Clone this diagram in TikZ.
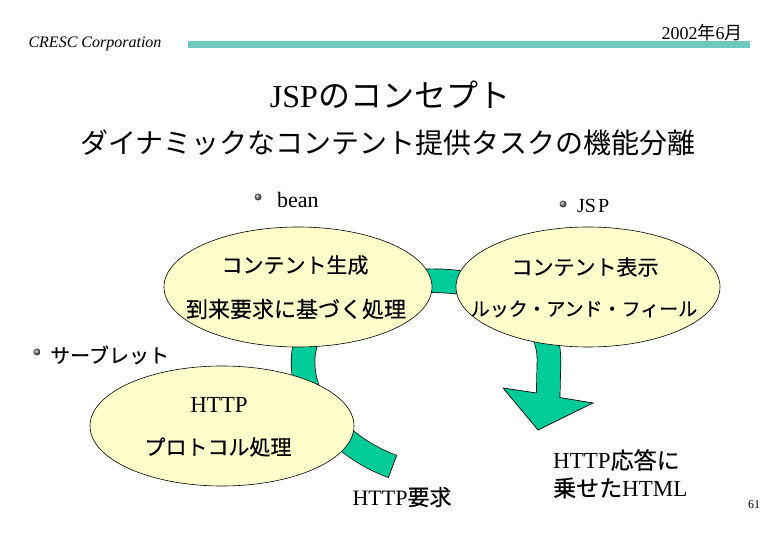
\documentclass[tikz,border=0pt]{standalone}
\usepackage{fontspec}
\setmainfont{Liberation Serif}
\newfontfamily\jp{Noto Sans CJK JP}
\newfontfamily\jpb[FakeBold=0.4]{Noto Sans CJK JP}
\usetikzlibrary{shapes.geometric,calc}
\definecolor{bandgreen}{RGB}{0,204,153}
\definecolor{ellfill}{RGB}{255,255,204}
\definecolor{barteal}{RGB}{110,200,190}
\newcommand\setfs[1]{\fontsize{#1}{#1}\selectfont}
\begin{document}
\begin{tikzpicture}[x=1pt,y=-1pt,
  txt/.style={inner sep=0pt, anchor=center},
  ell/.style={ellipse, draw=black, line width=0.6pt, fill=ellfill, inner sep=0pt},
  bul/.style={circle, inner sep=0pt, minimum size=7pt, ball color=gray!90!black},
  bandline/.style={draw=black, line width=0.7pt, double=bandgreen, double distance=23pt},
  bandedge/.style={draw=black, line width=0.7pt, fill=bandgreen, line join=miter}]
\useasboundingbox (0,0) rectangle (780,540);
\fill[white] (0,0) rectangle (780,540);
% header
\fill[barteal] (188,41) rectangle (750,48);
\node[txt, font=\itshape\setfs{16}] (corp) at (95,44) {CRESC Corporation};
\node[txt, font=\setfs{18}] (date) at (702,33) {2002{\jp 年}6{\jp 月}};
% titles
\node[txt, font=\setfs{32}] (title) at (390,95) {JSP{\jp のコンセプト}};
\node[txt, font=\jp\setfs{28}] (sub) at (388,143) {ダイナミックなコンテント提供タスクの機能分離};
% bullets
\node[bul] (b1) at (258,197) {};
\node[txt, anchor=west, font=\setfs{22}] (bean) at (277,200) {bean};
\node[bul] (b2) at (563,204) {};
\node[txt, anchor=west, font=\setfs{20}] (jsp) at (577,206) {JS\kern2pt P};
\node[bul] (b3) at (37,352) {};
\node[txt, anchor=west, font=\jpb\setfs{20}] (servlet) at (50,355) {サーブレット};
% band
\coordinate (s) at (392.5,466.5);
\coordinate (c1) at (348,450);
\coordinate (c2) at (303,410);
\coordinate (p1) at (303,362);
\coordinate (c3) at (303,300);
\coordinate (c4) at (385,278);
\coordinate (p2) at (443,281);
\coordinate (c5) at (505,284);
\coordinate (c6) at (549,315);
\coordinate (p3) at (549,360);
\coordinate (p4) at (548,402);
\draw[bandline] (s) .. controls (c1) and (c2) .. (p1)
  .. controls (c3) and (c4) .. (p2)
  .. controls (c5) and (c6) .. (p3) -- (p4);
\draw[black, line width=0.7pt] ($(s)!12.3pt!90:(c1)$) -- ($(s)!12.3pt!-90:(c1)$);
\coordinate (hl) at (536.5,393);
\coordinate (hr) at (559.5,397.5);
\coordinate (wl) at (503,388);
\coordinate (wr) at (593,403);
\coordinate (tip) at (538,430);
\filldraw[bandedge] (hl) -- (wl) -- (tip) -- (wr) -- (hr);
% ellipses
\node[ell, minimum width=268pt, minimum height=120pt] (gen) at (298,287) {};
\node[ell, minimum width=264pt, minimum height=120pt] (disp) at (588,287) {};
\node[ell, minimum width=264pt, minimum height=120pt] (srv) at (222,426) {};
\node[txt, font=\jpb\setfs{21}] (g1) at (295,265) {コンテント生成};
\node[txt, font=\jpb\setfs{22}] (g2) at (296,309) {到来要求に基づく処理};
\node[txt, font=\jpb\setfs{21}] (d1) at (585,267) {コンテント表示};
\node[txt, font=\jpb\setfs{19}] (d2) at (584,309) {ルック・アンド・フィール};
\node[txt, font=\setfs{23}] (s1) at (219,405) {HTTP};
\node[txt, font=\jpb\setfs{21}] (s2) at (218,447) {プロトコル処理};
% labels
\node[txt, font=\setfs{22}] (req) at (402,497) {HTTP{\jpb 要求}};
\node[txt, anchor=west, font=\setfs{23}] (resp1) at (553,460) {HTTP{\jpb 応答に}};
\node[txt, anchor=west, font=\setfs{23}] (resp2) at (553,488) {{\jpb 乗せた}HTML};
\node[txt, font=\setfs{12}] (page) at (754,505) {61};
\end{tikzpicture}
\end{document}
